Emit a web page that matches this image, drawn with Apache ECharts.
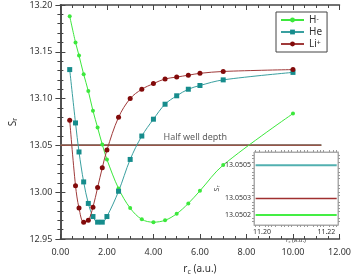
<!DOCTYPE html>
<html><head><meta charset="utf-8">
<script src="https://cdn.jsdelivr.net/npm/echarts@6/dist/echarts.min.js"></script>
<style>html,body{margin:0;padding:0;background:#fff}#c{width:354px;height:280px}</style></head>
<body><div id="c"></div>
<script>
var rc = [0.4,0.65,0.8,1.0,1.2,1.4,1.6,1.8,2.0,2.5,3.0,3.5,4.0,4.5,5.0,5.5,6.0,7.0,10.0];
var sH = [13.188,13.160,13.146,13.126,13.108,13.087,13.069,13.051,13.035,13.004,12.983,12.971,12.968,12.970,12.977,12.988,13.0015,13.029,13.084];
var sHe = [13.131,13.074,13.043,13.011,12.988,12.974,12.968,12.968,12.974,13.001,13.035,13.060,13.078,13.094,13.103,13.110,13.114,13.120,13.128];
var sLi = [13.077,13.007,12.983,12.968,12.970,12.984,13.005,13.026,13.045,13.080,13.100,13.110,13.116,13.121,13.123,13.125,13.127,13.129,13.131];
var halfDepth = {H: 13.0502, Li: 13.0503, He: 13.0505};
var halfXRange = [0, 11.22];
var halfLabel = {text:'Half well depth', x:5.8};
var insetXRange = [11.198, 11.2232];
var insetXLabels = [11.20, 11.22];
var insetYLabels = [13.0502, 13.0503, 13.0505];

var cH = '#3ce83c', cHe = '#168c8c', cLi = '#820a0a';
var FONT = 'Noto Sans';
function pairs(xs, ys){ return xs.map(function(x,i){return [x, ys[i]];}); }
function hline(y, r){ return [[r[0], y],[r[1], y]]; }
var axCol = '#444';
function mainAxis(extra){
  return Object.assign({
    type:'value', gridIndex:0, splitLine:{show:false},
    axisLine:{show:true, lineStyle:{color:axCol, width:1.5}},
    axisTick:{show:true, inside:true, length:5, lineStyle:{color:axCol, width:1}},
    axisLabel:{fontFamily:FONT, fontSize:9, color:'#333'}
  }, extra);
}
var inCol = '#aaa';
function insetAxis(extra){
  return Object.assign({
    type:'value', gridIndex:1, splitLine:{show:false}, z:12,
    axisLine:{show:true, lineStyle:{color:inCol, width:1}},
    axisTick:{show:false},
    minorTick:{show:true, splitNumber:5, length:2, lineStyle:{color:'#999', width:1}},
    axisLabel:{show:false}
  }, extra);
}
var chart = echarts.init(document.getElementById('c'));
chart.setOption({
  animation:false,
  backgroundColor:'#fff',
  grid:[
    {left:47, right:11, top:5, bottom:37},
    {left:254, right:16, top:152, bottom:55, show:true, backgroundColor:'#fff', borderColor:inCol, borderWidth:1, z:10}
  ],
  legend:{
    orient:'vertical', left:276, top:12, z:20,
    backgroundColor:'#fff', borderColor:'#444', borderWidth:1,
    padding:[3,5,3,4], itemWidth:23, itemHeight:6, itemGap:2,
    textStyle:{fontFamily:FONT, fontSize:10, color:'#333', lineHeight:10,
      rich:{b:{fontFamily:FONT, fontSize:10, color:'#333'}, s:{fontFamily:FONT, fontSize:7, color:'#333', verticalAlign:'top', padding:[0,0,5,0]}}},
    formatter:function(n){ if(n==='H-') return '{b|H}{s|-}'; if(n==='Li+') return '{b|Li}{s|+}'; return '{b|'+n+'}'; },
    data:['H-','He','Li+']
  },
  xAxis:[
    mainAxis({position:'bottom', min:0, max:12, interval:2,
      minorTick:{show:true, splitNumber:4, length:3, lineStyle:{color:axCol}},
      axisLabel:{fontFamily:FONT, fontSize:9, color:'#333', margin:9, formatter:function(v){return v.toFixed(2);}},
      name:'{a|r}{s|c}{a| (a.u.)}', nameLocation:'middle', nameGap:25,
      nameTextStyle:{rich:{a:{fontFamily:FONT, fontSize:10, color:'#333'}, s:{fontFamily:FONT, fontSize:7, color:'#333', verticalAlign:'bottom', padding:[4,0,0,0]}}}}),
    mainAxis({position:'top', min:0, max:12, interval:2, axisLabel:{show:false},
      minorTick:{show:true, splitNumber:4, length:3, lineStyle:{color:axCol}}}),
    insetAxis({position:'bottom', min:insetXRange[0]-0.0005, max:insetXRange[1]+0.0004,
      axisLabel:{show:true, customValues:insetXLabels, fontFamily:FONT, fontSize:7, color:'#333', margin:3, formatter:function(v){return v.toFixed(2);}},
      name:'{a|r}{s|c}{a| (a.u.)}', nameLocation:'middle', nameGap:12,
      nameTextStyle:{rich:{a:{fontFamily:FONT, fontSize:6, color:'#444'}, s:{fontFamily:FONT, fontSize:4, color:'#444', padding:[3,0,0,0]}}}}),
    insetAxis({position:'top', min:insetXRange[0]-0.0005, max:insetXRange[1]+0.0004})
  ],
  yAxis:[
    mainAxis({position:'left', min:12.95, max:13.20, interval:0.05,
      minorTick:{show:true, splitNumber:5, length:3, lineStyle:{color:axCol}},
      axisLabel:{fontFamily:FONT, fontSize:9, color:'#333', margin:8, formatter:function(v){return v.toFixed(2);}},
      name:'{a|S}{s|r}', nameLocation:'middle', nameGap:37, nameRotate:90,
      nameTextStyle:{rich:{a:{fontFamily:FONT, fontSize:10, color:'#333'}, s:{fontFamily:FONT, fontSize:7, color:'#333', padding:[4,0,0,0]}}}}),
    mainAxis({position:'right', min:12.95, max:13.20, interval:0.05, axisLabel:{show:false},
      minorTick:{show:true, splitNumber:5, length:3, lineStyle:{color:axCol}}}),
    insetAxis({position:'left', min:13.05014, max:13.05058,
      axisLabel:{show:true, customValues:insetYLabels, fontFamily:FONT, fontSize:7, color:'#333', margin:3, formatter:function(v){return v.toFixed(4);}},
      name:'{a|S}{s|r}', nameLocation:'middle', nameGap:30, nameRotate:90,
      nameTextStyle:{rich:{a:{fontFamily:FONT, fontSize:7, color:'#444'}, s:{fontFamily:FONT, fontSize:5, color:'#444', padding:[3,0,0,0]}}}}),
    insetAxis({position:'right', min:13.05014, max:13.05058})
  ],
  series:[
    {name:'He-half', type:'line', xAxisIndex:0, yAxisIndex:0, data:hline(halfDepth.He, halfXRange), symbol:'none', lineStyle:{color:'#4a9a9a', width:1}, z:1, silent:true},
    {name:'H-half', type:'line', xAxisIndex:0, yAxisIndex:0, data:hline(halfDepth.H, halfXRange), symbol:'none', lineStyle:{color:'#5a9a5a', width:1}, z:1, silent:true},
    {name:'Li-half', type:'line', xAxisIndex:0, yAxisIndex:0, data:hline(halfDepth.Li, halfXRange), symbol:'none', lineStyle:{color:'#a03838', width:1.2}, z:1, silent:true},
    {name:'label', type:'scatter', xAxisIndex:0, yAxisIndex:0, data:[[halfLabel.x, halfDepth.Li]], symbolSize:0, silent:true, z:5,
      label:{show:true, position:'top', distance:3, formatter:halfLabel.text, fontFamily:FONT, fontSize:9, color:'#333'}},
    {name:'H-', type:'line', xAxisIndex:0, yAxisIndex:0, data:pairs(rc, sH), smooth:0.35,
      symbol:'circle', symbolSize:4, itemStyle:{color:cH}, lineStyle:{color:cH, width:1}, z:3},
    {name:'He', type:'line', xAxisIndex:0, yAxisIndex:0, data:pairs(rc, sHe), smooth:0.35,
      symbol:'rect', symbolSize:5, itemStyle:{color:cHe}, lineStyle:{color:'#3aa0a0', width:1}, z:3},
    {name:'Li+', type:'line', xAxisIndex:0, yAxisIndex:0, data:pairs(rc, sLi), smooth:0.35,
      symbol:'circle', symbolSize:5, itemStyle:{color:cLi}, lineStyle:{color:'#a03a3a', width:1}, z:4},
    {name:'He-in', type:'line', xAxisIndex:2, yAxisIndex:2, data:hline(halfDepth.He, insetXRange), symbol:'none', lineStyle:{color:'#52b0b0', width:2}, z:13, silent:true},
    {name:'Li-in', type:'line', xAxisIndex:2, yAxisIndex:2, data:hline(halfDepth.Li, insetXRange), symbol:'none', lineStyle:{color:'#a03030', width:1.5}, z:13, silent:true},
    {name:'H-in', type:'line', xAxisIndex:2, yAxisIndex:2, data:hline(halfDepth.H, insetXRange), symbol:'none', lineStyle:{color:'#44ee44', width:2}, z:13, silent:true}
  ]
});
</script></body></html>
